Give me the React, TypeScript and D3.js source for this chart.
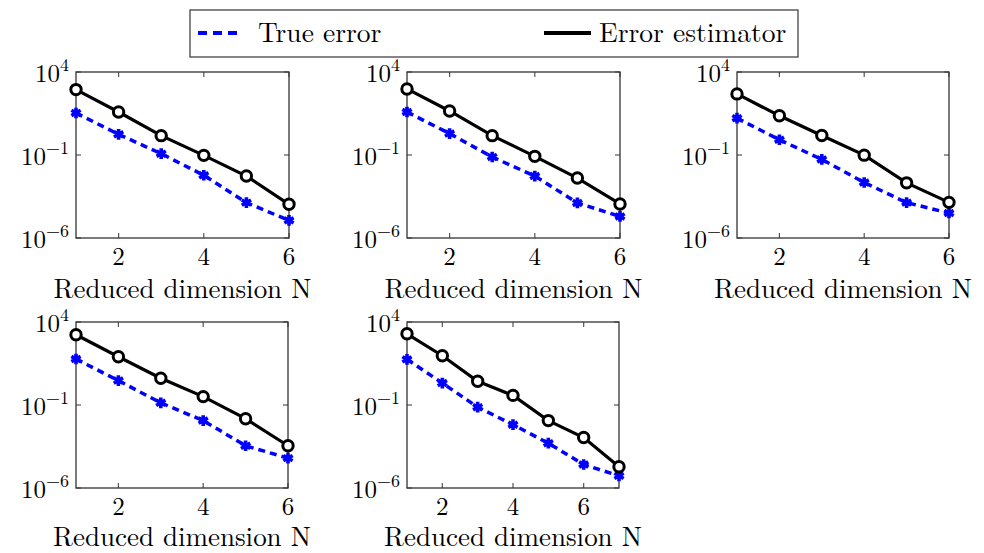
import React from "react";
import * as d3 from "d3";

// reduced dimensions N for each panel
const dims6 = [1, 2, 3, 4, 5, 6];
const dims7 = [1, 2, 3, 4, 5, 6, 7];

// true error (blue, dashed) and error estimator (black) per panel
const trueError1 = [34, 1.76, 0.12, 6.0e-3, 1.35e-4, 1.15e-5];
const estimator1 = [870, 39, 1.46, 0.095, 5.4e-3, 1.07e-4];

const trueError2 = [39, 1.95, 0.076, 5.4e-3, 1.3e-4, 2.0e-5];
const estimator2 = [955, 45, 1.46, 0.083, 4.1e-3, 1.12e-4];

const trueError3 = [16.6, 0.83, 0.054, 2.2e-3, 1.35e-4, 3.2e-5];
const estimator3 = [479, 23, 1.48, 0.098, 2.1e-3, 1.4e-4];

const trueError4 = [59, 2.95, 0.135, 0.0115, 3.5e-4, 6.3e-5];
const estimator4 = [1700, 81, 4.1, 0.32, 0.015, 3.5e-4];

const trueError5 = [56, 2.1, 0.074, 6.5e-3, 5.0e-4, 2.6e-5, 5.4e-6];
const estimator5 = [1950, 93, 2.7, 0.38, 0.0115, 1.1e-3, 1.9e-5];

const xTicks = [2, 4, 6];
const yTicks = [1e4, 1e-1, 1e-6];
const yTickExp = ["4", "\u22121", "\u22126"];

const xLabel = "Reduced dimension N";
const legendLabels = ["True error", "Error estimator"];

const FONT = "Latin Modern Roman";
const BLUE = "#0000ff";

interface PanelProps {
  left: number;
  top: number;
  width: number;
  height: number;
  labelGap: number;
  dims: number[];
  trueErr: number[];
  est: number[];
}

function Panel(props: PanelProps) {
  const { left, top, width, height, labelGap, dims, trueErr, est } = props;
  const x = d3.scaleLinear().domain([1, dims.length]).range([0, width]);
  const y = d3.scaleLog().domain([1e-6, 1e4]).range([height, 0]);

  const line = d3
    .line<number>()
    .x((_, i) => x(dims[i]))
    .y((d) => y(d));

  const star = d3.symbol().type(d3.symbolAsterisk).size(80)() as string;

  return (
    <g transform={`translate(${left},${top})`}>
      {/* ticks (inward, both sides) */}
      {xTicks.map((t) => (
        <g key={"xt" + t}>
          <line x1={x(t)} x2={x(t)} y1={height} y2={height - 5} stroke="#555" strokeWidth={1.2} />
          <line x1={x(t)} x2={x(t)} y1={0} y2={5} stroke="#555" strokeWidth={1.2} />
          <text x={x(t)} y={height + 27} textAnchor="middle" fontSize={25} style={{ fontFamily: FONT }}>
            {t}
          </text>
        </g>
      ))}
      {yTicks.map((t, i) => (
        <g key={"yt" + i}>
          <line x1={0} x2={5} y1={y(t)} y2={y(t)} stroke="#555" strokeWidth={1.2} />
          <line x1={width} x2={width - 5} y1={y(t)} y2={y(t)} stroke="#555" strokeWidth={1.2} />
          <text x={-7} y={y(t) + 10} textAnchor="end" fontSize={25} style={{ fontFamily: FONT }}>
            10
            <tspan dy={-11} fontSize={18}>
              {yTickExp[i]}
            </tspan>
          </text>
        </g>
      ))}
      <rect x={0} y={0} width={width} height={height} fill="none" stroke="#333" strokeWidth={1.3} />

      {/* true error */}
      <path d={line(trueErr) as string} fill="none" stroke={BLUE} strokeWidth={3.5} strokeDasharray="7 5" />
      {trueErr.map((v, i) => (
        <path
          key={"s" + i}
          d={star}
          transform={`translate(${x(dims[i])},${y(v)})`}
          fill="none"
          stroke={BLUE}
          strokeWidth={3.6}
        />
      ))}

      {/* error estimator */}
      <path d={line(est) as string} fill="none" stroke="#000" strokeWidth={3.2} />
      {est.map((v, i) => (
        <circle
          key={"c" + i}
          cx={x(dims[i])}
          cy={y(v)}
          r={5.2}
          fill="#fff"
          stroke="#000"
          strokeWidth={3}
        />
      ))}

      <text x={width / 2} y={height + labelGap} textAnchor="middle" fontSize={27} style={{ fontFamily: FONT }}>
        {xLabel}
      </text>
    </g>
  );
}

export default function App() {
  return (
    <svg width={984} height={553} style={{ position: "absolute", left: 0, top: 0, background: "#fff" }}>
      <rect x={0} y={0} width={984} height={553} fill="#fff" />

      {/* legend */}
      <g>
        <rect x={190} y={10} width={608} height={47} fill="#fff" stroke="#444" strokeWidth={1.3} />
        <line x1={198} x2={243} y1={33} y2={33} stroke={BLUE} strokeWidth={4} strokeDasharray="9 6" />
        <text x={258} y={42} fontSize={27.5} style={{ fontFamily: FONT }}>
          {legendLabels[0]}
        </text>
        <line x1={544} x2={591} y1={33} y2={33} stroke="#000" strokeWidth={4} />
        <text x={599} y={42} fontSize={27.5} style={{ fontFamily: FONT }}>
          {legendLabels[1]}
        </text>
      </g>

      <Panel left={76} top={72} width={213} height={166} labelGap={60} dims={dims6} trueErr={trueError1} est={estimator1} />
      <Panel left={407} top={72} width={213} height={166} labelGap={60} dims={dims6} trueErr={trueError2} est={estimator2} />
      <Panel left={737} top={72} width={212} height={166} labelGap={60} dims={dims6} trueErr={trueError3} est={estimator3} />
      <Panel left={76} top={322} width={212} height={166} labelGap={58} dims={dims6} trueErr={trueError4} est={estimator4} />
      <Panel left={407} top={322} width={212} height={166} labelGap={58} dims={dims7} trueErr={trueError5} est={estimator5} />
    </svg>
  );
}
